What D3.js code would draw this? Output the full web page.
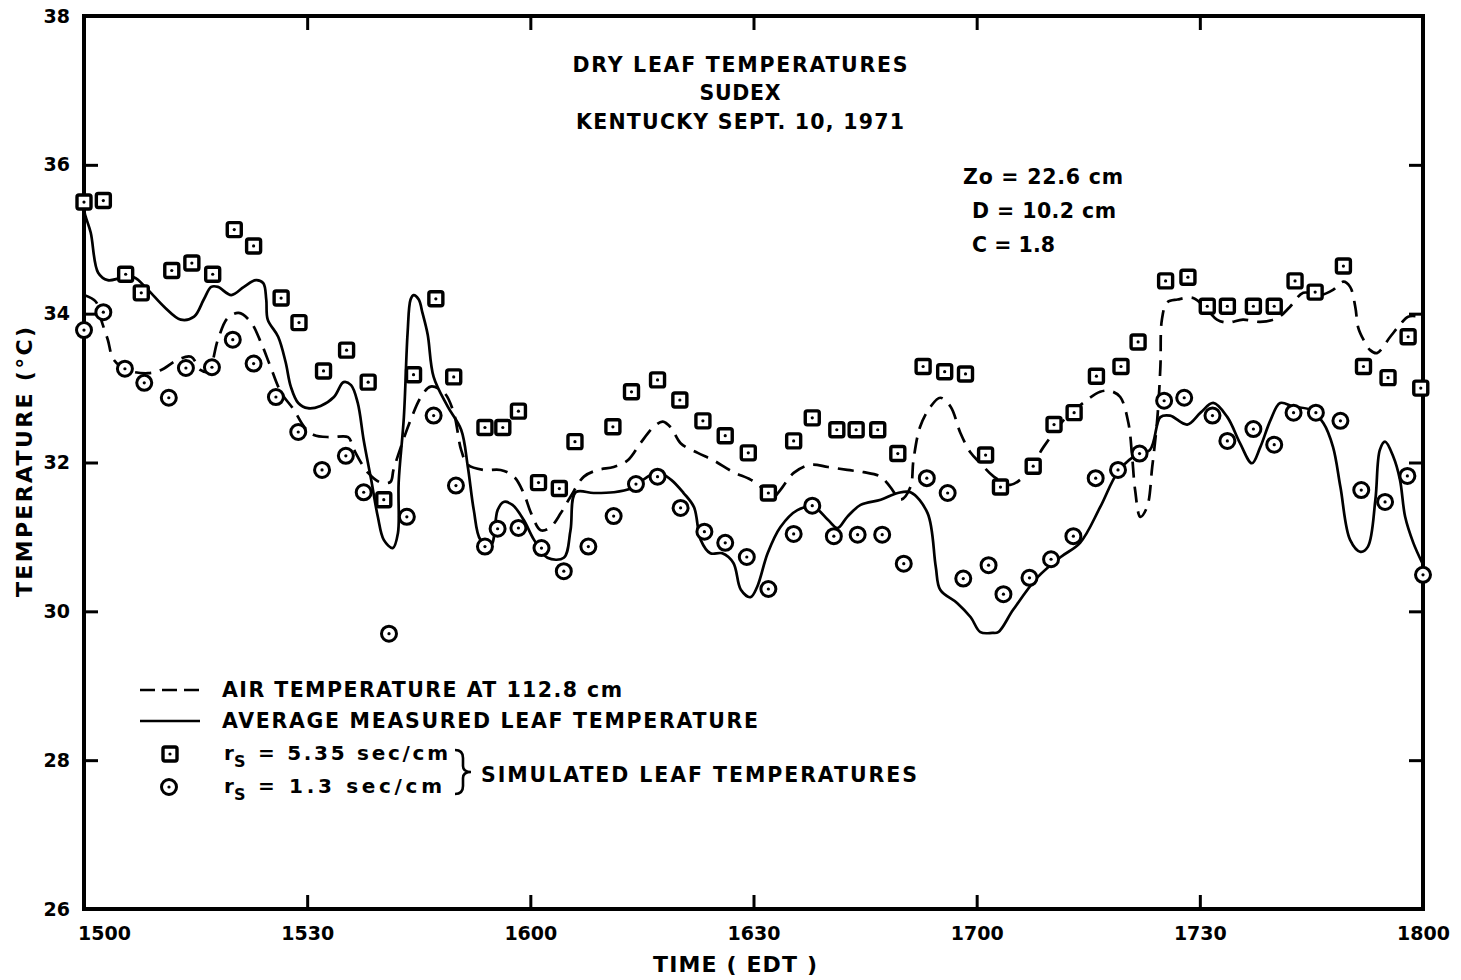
<!DOCTYPE html>
<meta charset="utf-8">
<style>
body { margin: 0; background: #fff; }
text { font-family: "DejaVu Sans", sans-serif; font-weight: bold; fill: #000; }
.frame { fill: none; stroke: #000; stroke-width: 4px; }
.axis path { display: none; }
.axis line { stroke: #000; stroke-width: 3px; }
.axis text { font-family: "DejaVu Sans", sans-serif; font-size: 19px; font-weight: bold; }
.air { fill: none; stroke: #000; stroke-width: 2.7px; stroke-dasharray: 16 9; }
.leaf { fill: none; stroke: #000; stroke-width: 2.7px; }
.sq { fill: #fff; stroke: #000; stroke-width: 3.4px; }
.ci { fill: #fff; stroke: #000; stroke-width: 3px; }
</style>
<script src="https://cdn.jsdelivr.net/npm/d3@7"></script>
<body>
<script>

// time is in minutes after 1500 EDT, temperature in deg C
var xTicks = [0, 30, 60, 90, 120, 150, 180];
var xTickLabels = ["1500", "1530", "1600", "1630", "1700", "1730", "1800"];
var yTicks = [26, 28, 30, 32, 34, 36, 38];

// simulated leaf temperature, rs = 5.35 sec/cm (squares)
var squareTimes = [0, 2.6, 5.6, 7.7, 11.8, 14.5, 17.3, 20.2, 22.8, 26.5, 28.9, 32.2, 35.3, 38.2, 40.3, 44.3,
  47.3, 49.7, 53.9, 56.3, 58.4, 61.1, 63.9, 66.0, 71.1, 73.6, 77.1, 80.1, 83.2, 86.2, 89.3, 92.0,
  95.4, 97.9, 101.2, 103.8, 106.7, 109.4, 112.8, 115.7, 118.5, 121.2, 123.2, 127.6, 130.4, 133.1,
  136.1, 139.4, 141.7, 145.4, 148.4, 151.0, 153.7, 157.2, 160.0, 162.8, 165.5, 169.3, 172.0, 175.3, 178.0, 179.7];
var squareTemps = [35.50, 35.52, 34.53, 34.28, 34.58, 34.68, 34.53, 35.13, 34.91, 34.21, 33.88, 33.23, 33.51, 33.08, 31.50, 33.18,
  34.20, 33.15, 32.47, 32.47, 32.69, 31.73, 31.65, 32.28, 32.48, 32.95, 33.11, 32.84, 32.56, 32.36, 32.13, 31.59,
  32.29, 32.60, 32.44, 32.44, 32.44, 32.12, 33.29, 33.22, 33.19, 32.10, 31.67, 31.95, 32.51, 32.67,
  33.16, 33.29, 33.62, 34.44, 34.49, 34.10, 34.10, 34.10, 34.10, 34.44, 34.29, 34.64, 33.29, 33.14, 33.69, 33.00];

// simulated leaf temperature, rs = 1.3 sec/cm (circles)
var circleTimes = [0, 2.6, 5.5, 8.1, 11.4, 13.7, 17.2, 20.0, 22.8, 25.8, 28.8, 32.0, 35.2, 37.6, 41.0, 43.4,
  47.0, 50.0, 53.9, 55.6, 58.4, 61.5, 64.5, 67.8, 71.2, 74.2, 77.1, 80.2, 83.4, 86.2, 89.1, 92.0,
  95.4, 97.9, 100.8, 104.0, 107.3, 110.2, 113.3, 116.1, 118.2, 121.6, 123.6, 127.1, 130.0, 133.0,
  136.0, 139.0, 141.9, 145.2, 147.9, 151.7, 153.7, 157.2, 160.0, 162.6, 165.6, 168.9, 171.7, 174.9, 177.9, 180.0];
var circleTemps = [33.78, 34.02, 33.26, 33.07, 32.87, 33.27, 33.28, 33.65, 33.33, 32.88, 32.41, 31.90, 32.09, 31.60, 29.70, 31.27,
  32.63, 31.69, 30.87, 31.11, 31.12, 30.85, 30.54, 30.87, 31.28, 31.71, 31.81, 31.39, 31.07, 30.92, 30.73, 30.30,
  31.04, 31.42, 31.01, 31.03, 31.03, 30.64, 31.79, 31.59, 30.44, 30.62, 30.23, 30.45, 30.70, 31.01,
  31.79, 31.90, 32.12, 32.83, 32.87, 32.63, 32.29, 32.45, 32.24, 32.67, 32.67, 32.56, 31.63, 31.47, 31.82, 30.49];

// air temperature at 112.8 cm (dashed)
var airTimes = [0, 1.6, 2.3, 3.2, 4.0, 5.9, 8.6, 10.3, 12.6, 14.4, 15.7, 16.7, 18.0, 19.3, 20.8, 22.4,
  23.8, 25.1, 26.5, 28.2, 29.6, 30.9, 33.2, 35.5, 36.3, 38.2, 39.9, 41.2, 41.6, 42.6, 43.9, 45.3,
  46.6, 48.4, 49.7, 50.7, 51.6, 53.7, 56.0, 57.8, 59.1, 60.1, 61.4, 62.7, 64.1, 65.4, 67.2, 69.1,
  71.2, 73.1, 74.8, 76.6, 77.8, 78.9, 80.2, 82.5, 84.6, 87.3, 89.6, 91.0, 92.3, 93.6, 95.4, 97.7,
  100.0, 102.6, 104.8, 107.1, 108.4, 109.8, 111.1, 111.5, 112.4, 113.8, 115.1, 116.5, 117.8, 119.2,
  120.5, 122.3, 124.5, 126.8, 129.0, 131.7, 134.3, 136.6, 138.0, 139.3, 140.4, 140.9, 141.3, 142.0,
  142.9, 143.6, 144.3, 144.7, 144.9, 145.6, 147.0, 149.1, 151.0, 152.3, 153.7, 155.8, 158.1, 160.4,
  162.1, 163.9, 166.2, 167.9, 169.3, 170.2, 170.9, 171.3, 172.0, 172.9, 173.8, 175.6, 176.9, 178.0, 179.6];
var airTemps = [34.25, 34.16, 33.92, 33.65, 33.38, 33.24, 33.20, 33.24, 33.38, 33.42, 33.24, 33.22, 33.65, 33.94, 34.01, 33.89,
  33.61, 33.28, 32.94, 32.71, 32.48, 32.37, 32.34, 32.34, 32.17, 31.86, 31.73, 31.74, 31.90, 32.21, 32.57, 32.88,
  33.02, 32.94, 32.67, 32.17, 31.97, 31.90, 31.90, 31.81, 31.59, 31.32, 31.09, 31.13, 31.32, 31.54, 31.81, 31.90,
  31.94, 32.03, 32.26, 32.48, 32.55, 32.47, 32.26, 32.13, 32.03, 31.87, 31.77, 31.67, 31.50, 31.63, 31.86, 31.97,
  31.94, 31.90, 31.87, 31.81, 31.67, 31.50, 31.67, 32.03, 32.48, 32.75, 32.87, 32.75, 32.40, 32.13,
  31.99, 31.81, 31.70, 31.86, 32.21, 32.57, 32.80, 32.95, 32.96, 32.88, 32.53, 32.08, 31.63, 31.27,
  31.40, 31.94, 32.61, 33.29, 33.92, 34.15, 34.19, 34.21, 34.05, 33.92, 33.88, 33.92, 33.89, 33.94,
  34.09, 34.28, 34.25, 34.32, 34.43, 34.36, 34.09, 33.81, 33.65, 33.51, 33.47, 33.69, 33.85, 33.96, 33.96];

// average measured leaf temperature (solid)
var leafTimes = [0, 0.1, 0.9, 1.9, 3.2, 5.0, 6.7, 8.6, 10.8, 13.0, 14.8, 16.1, 17.1, 18.0, 19.8, 21.5,
  23.1, 24.1, 24.5, 24.7, 26.1, 27.1, 27.8, 28.8, 30.1, 31.8, 33.6, 34.9, 35.9, 36.8, 37.6, 38.6,
  39.5, 40.3, 41.5, 42.2, 42.3, 43.0, 43.5, 43.9, 44.3, 45.0, 45.5, 46.2, 47.0, 48.9, 50.7, 51.6,
  52.4, 53.3, 54.7, 55.6, 56.4, 57.6, 59.1, 60.5, 62.3, 64.5, 65.4, 66.1, 68.5, 71.2, 73.5, 75.2,
  77.1, 78.9, 80.6, 82.0, 82.9, 84.2, 85.8, 87.3, 88.3, 89.6, 90.5, 91.9, 93.6, 95.9, 98.1, 100.0,
  101.3, 102.6, 104.4, 107.1, 109.4, 111.1, 113.4, 114.5, 115.1, 117.4, 119.2, 120.5, 122.1, 122.9,
  124.9, 128.2, 131.3, 133.9, 136.6, 138.9, 141.1, 143.3, 144.7, 146.0, 148.3, 150.1, 151.8, 153.7,
  155.4, 157.0, 158.1, 159.5, 160.8, 162.6, 164.8, 166.6, 167.9, 168.9, 170.2, 171.6, 172.6, 173.6,
  174.2, 174.9, 176.0, 176.9, 177.6, 178.7, 179.9];
var leafTemps = [35.46, 35.35, 35.09, 34.55, 34.45, 34.48, 34.49, 34.32, 34.09, 33.92, 33.96, 34.19, 34.36, 34.36, 34.25, 34.36,
  34.45, 34.41, 34.19, 33.92, 33.69, 33.35, 33.02, 32.80, 32.73, 32.76, 32.88, 33.08, 33.04, 32.80, 32.30, 31.77,
  31.27, 30.96, 30.85, 31.05, 31.73, 32.61, 33.74, 34.19, 34.25, 34.19, 34.01, 33.72, 33.15, 32.75, 32.44, 31.94,
  31.36, 30.96, 30.89, 31.36, 31.47, 31.43, 31.23, 30.96, 30.72, 30.72, 31.09, 31.60, 31.59, 31.60, 31.65, 31.77,
  31.87, 31.77, 31.59, 31.40, 30.96, 30.78, 30.78, 30.65, 30.29, 30.19, 30.33, 30.78, 31.13, 31.36, 31.40, 31.23,
  31.12, 31.27, 31.43, 31.50, 31.59, 31.60, 31.32, 30.60, 30.29, 30.11, 29.92, 29.72, 29.71, 29.72,
  30.02, 30.46, 30.73, 30.92, 31.40, 31.86, 32.08, 32.17, 32.61, 32.63, 32.51, 32.67, 32.80, 32.61,
  32.26, 31.99, 32.20, 32.57, 32.80, 32.75, 32.71, 32.53, 32.21, 31.67, 30.96, 30.80, 30.87, 31.50,
  32.17, 32.28, 32.08, 31.77, 31.27, 30.92, 30.65];

var width = 1461,
    height = 980;

var svg = d3.select("body")
  .append("svg")
  .attr("width", width)
  .attr("height", height);

var x = d3.scaleLinear().domain([0, 180]).range([84, 1423]);
var y = d3.scaleLinear().domain([26, 38]).range([909, 16]);

function pairs(ts, vs) {
  return ts.map(function(t, i) { return [t, vs[i]]; });
}

// ticks on all four sides, pointing inward
svg.append("g")
  .attr("class", "axis")
  .attr("transform", "translate(0," + y(26) + ")")
  .call(d3.axisBottom(x).tickValues(xTicks).tickSize(-14).tickPadding(18)
    .tickFormat(function(d, i) { return xTickLabels[i]; }))
  .selectAll("text")
    .attr("dx", function(d) { return d === 0 ? 20 : 0; });

svg.append("g")
  .attr("class", "axis")
  .attr("transform", "translate(0," + y(38) + ")")
  .call(d3.axisTop(x).tickValues(xTicks).tickSize(-14).tickFormat(""));

svg.append("g")
  .attr("class", "axis")
  .attr("transform", "translate(" + x(0) + ",0)")
  .call(d3.axisLeft(y).tickValues(yTicks).tickSize(-14).tickPadding(14));

svg.append("g")
  .attr("class", "axis")
  .attr("transform", "translate(" + x(180) + ",0)")
  .call(d3.axisRight(y).tickValues(yTicks).tickSize(-14).tickFormat(""));

svg.append("rect")
  .attr("class", "frame")
  .attr("x", x(0))
  .attr("y", y(38))
  .attr("width", x(180) - x(0))
  .attr("height", y(26) - y(38));

var line = d3.line()
  .x(function(d) { return x(d[0]); })
  .y(function(d) { return y(d[1]); })
  .curve(d3.curveCatmullRom.alpha(0.5));

svg.append("path")
  .attr("class", "air")
  .attr("d", line(pairs(airTimes, airTemps)));

svg.append("path")
  .attr("class", "leaf")
  .attr("d", line(pairs(leafTimes, leafTemps)));

function drawSquare(g, cx, cy) {
  g.append("rect").attr("class", "sq")
    .attr("x", cx - 7).attr("y", cy - 7).attr("width", 14).attr("height", 14).attr("rx", 2);
  g.append("circle").attr("cx", cx).attr("cy", cy).attr("r", 1.6).attr("fill", "#000");
}

function drawCircle(g, cx, cy) {
  g.append("circle").attr("class", "ci").attr("cx", cx).attr("cy", cy).attr("r", 7.5);
  g.append("circle").attr("cx", cx).attr("cy", cy).attr("r", 1.6).attr("fill", "#000");
}

var marks = svg.append("g");
pairs(squareTimes, squareTemps).forEach(function(d) { drawSquare(marks, x(d[0]), y(d[1])); });
pairs(circleTimes, circleTemps).forEach(function(d) { drawCircle(marks, x(d[0]), y(d[1])); });

// title
var title = ["DRY LEAF TEMPERATURES", "SUDEX", "KENTUCKY  SEPT. 10, 1971"];
var titleY = [72, 100, 129];
var titleW = [335, 81, 328];
title.forEach(function(t, i) {
  svg.append("text")
    .attr("x", 740).attr("y", titleY[i])
    .attr("text-anchor", "middle")
    .attr("font-size", 20.5)
    .attr("textLength", titleW[i])
    .attr("lengthAdjust", "spacing")
    .text(t);
});

// parameters
var params = ["Zo = 22.6 cm", "D = 10.2 cm", "C = 1.8"];
var paramX = [963, 972, 972];
var paramW = [160, 144, 83];
params.forEach(function(t, i) {
  svg.append("text")
    .attr("x", paramX[i]).attr("y", 184 + i * 34)
    .attr("font-size", 20.5)
    .attr("textLength", paramW[i])
    .attr("lengthAdjust", "spacing")
    .text(t);
});

// legend
var lg = svg.append("g");
lg.append("line").attr("class", "air").attr("x1", 140).attr("x2", 200).attr("y1", 690).attr("y2", 690)
  .style("stroke-dasharray", "15 7");
lg.append("line").attr("class", "leaf").attr("x1", 140).attr("x2", 200).attr("y1", 721).attr("y2", 721);
drawSquare(lg, 170, 754);
drawCircle(lg, 169, 787);

lg.append("text").attr("x", 222).attr("y", 697).attr("font-size", 20.5)
  .attr("textLength", 400).attr("lengthAdjust", "spacing")
  .text("AIR TEMPERATURE AT 112.8 cm");
lg.append("text").attr("x", 222).attr("y", 728).attr("font-size", 20.5)
  .attr("textLength", 536).attr("lengthAdjust", "spacing")
  .text("AVERAGE MEASURED LEAF TEMPERATURE");

var rs = [["5.35", 760, 190], ["1.3", 793, 184]];
rs.forEach(function(r) {
  var t = lg.append("text").attr("x", 224).attr("y", r[1]).attr("font-size", 20);
  t.append("tspan").text("r");
  t.append("tspan").attr("font-size", 16).attr("dy", 7).text("S");
  t.append("tspan").attr("x", 258).attr("dy", -7)
    .attr("textLength", r[2]).attr("lengthAdjust", "spacing")
    .text("= " + r[0] + " sec/cm");
});

lg.append("path")
  .attr("d", "M455,750 Q463,750 463,758 L463,766 Q463,772 471,772 Q463,772 463,778 L463,786 Q463,794 455,794")
  .attr("fill", "none").attr("stroke", "#000").attr("stroke-width", 2.6);

lg.append("text").attr("x", 481).attr("y", 782).attr("font-size", 20.5)
  .attr("textLength", 436).attr("lengthAdjust", "spacing")
  .text("SIMULATED LEAF TEMPERATURES");

// axis titles
svg.append("text")
  .attr("transform", "translate(32,462) rotate(-90)")
  .attr("text-anchor", "middle")
  .attr("font-size", 22)
  .attr("textLength", 270)
  .attr("lengthAdjust", "spacing")
  .text("TEMPERATURE (\u00B0C)");

svg.append("text")
  .attr("x", 735).attr("y", 972)
  .attr("text-anchor", "middle")
  .attr("font-size", 22)
  .attr("textLength", 164)
  .attr("lengthAdjust", "spacing")
  .text("TIME ( EDT )");

</script>
</body>
